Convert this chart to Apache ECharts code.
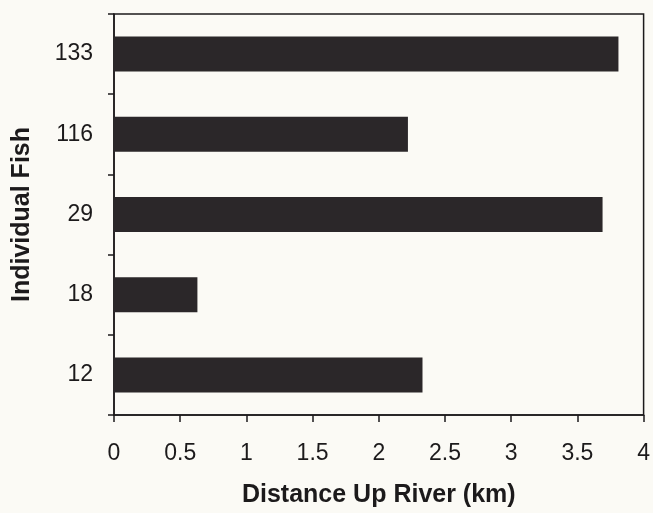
<!DOCTYPE html>
<html>
<head>
<meta charset="utf-8">
<script src="https://cdn.jsdelivr.net/npm/echarts@6/dist/echarts.min.js"></script>
<style>
  html, body { margin: 0; padding: 0; background: #fbfaf5; }
  #chart { width: 653px; height: 513px; }
</style>
</head>
<body>
<div id="chart"></div>
<script>
// Fish IDs, listed bottom to top on the category axis
const fishIds = ['12', '18', '29', '116', '133'];
// Furthest distance reached up river by each fish (km)
const distanceKm = [2.33, 0.63, 3.69, 2.22, 3.81];
// Distance axis range and step (km)
const xMin = 0;
const xMax = 4;
const xStep = 0.5;

const ink = '#1c1a1b';
const font = '"Liberation Sans", Arial, Helvetica, sans-serif';

const chart = echarts.init(document.getElementById('chart'), null, { renderer: 'canvas' });
chart.setOption({
  backgroundColor: '#fbfaf5',
  animation: false,
  grid: {
    left: 114, right: 6, top: 14, bottom: 96,
    show: true,
    borderColor: ink,
    borderWidth: 1.5,
    backgroundColor: 'transparent'
  },
  xAxis: {
    type: 'value',
    min: xMin, max: xMax, interval: xStep,
    name: 'Distance Up River (km)',
    nameLocation: 'middle',
    nameGap: 68,
    nameTextStyle: { fontFamily: font, fontSize: 25, fontWeight: 'bold', color: ink },
    axisLine: { show: true, lineStyle: { color: ink, width: 1.5 } },
    axisTick: { show: true, inside: false, length: 7, lineStyle: { color: ink, width: 1.5 } },
    axisLabel: { margin: 27, fontFamily: font, fontSize: 23, color: ink },
    splitLine: { show: false }
  },
  yAxis: {
    type: 'category',
    data: fishIds,
    boundaryGap: true,
    name: 'Individual Fish',
    nameLocation: 'middle',
    nameGap: 79,
    nameTextStyle: { fontFamily: font, fontSize: 25, fontWeight: 'bold', color: ink },
    axisLine: { show: true, lineStyle: { color: ink, width: 1.5 } },
    axisTick: { show: true, inside: false, length: 6, alignWithLabel: false, lineStyle: { color: ink, width: 1.5 } },
    axisLabel: { margin: 21, fontFamily: font, fontSize: 23, color: ink },
    splitLine: { show: false }
  },
  series: [{
    type: 'bar',
    data: distanceKm,
    barWidth: 35,
    itemStyle: { color: '#2b2729' }
  }]
});
</script>
</body>
</html>
